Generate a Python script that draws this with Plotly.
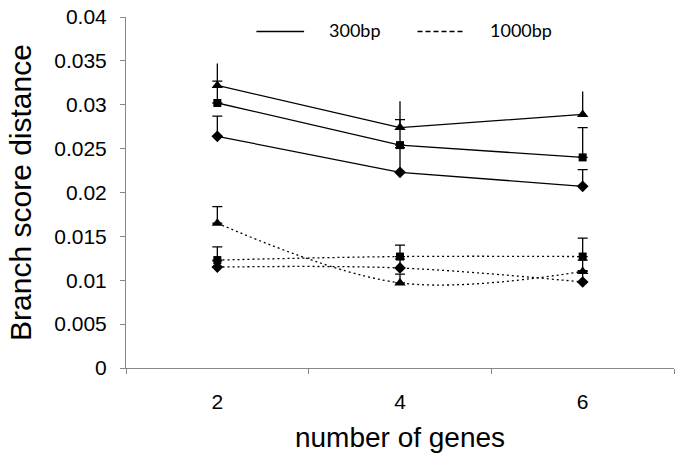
import plotly.graph_objects as go

genes = ["2", "4", "6"]

bp300_triangle = [0.0322, 0.0274, 0.0289]
bp300_square = [0.0302, 0.0254, 0.0240]
bp300_diamond = [0.0264, 0.0223, 0.0207]
bp300_triangle_err = [0.0025, 0.0030, 0.0026]
bp300_square_err = [0.0025, 0.0029, 0.0034]
bp300_diamond_err = [0.0023, 0.0028, 0.0019]

bp1000_triangle = [0.0165, 0.0097, 0.0110]
bp1000_square = [0.0123, 0.0127, 0.0127]
bp1000_diamond = [0.0115, 0.0114, 0.0098]
bp1000_triangle_err = [0.0019, 0.0010, 0.0013]
bp1000_square_err = [0.0015, 0.0013, 0.0021]
bp1000_diamond_err = [0.0007, 0.0010, 0.0013]

y_ticks = [0, 0.005, 0.01, 0.015, 0.02, 0.025, 0.03, 0.035, 0.04]
y_tick_labels = ["0", "0.005", "0.01", "0.015", "0.02", "0.025", "0.03", "0.035", "0.04"]

fig = go.Figure()

def add(y, err, symbol, size, dash, shape, capw):
    fig.add_trace(go.Scatter(
        x=genes, y=y, mode="lines+markers",
        line=dict(color="black", width=1.3, dash=dash, shape=shape, smoothing=1.0),
        marker=dict(symbol=symbol, size=size, color="black"),
        error_y=dict(type="data", array=err, symmetric=False, arrayminus=[0, 0, 0],
                     color="black", thickness=1.3, width=capw),
        showlegend=False,
        cliponaxis=False,
    ))

add(bp300_triangle, bp300_triangle_err, "triangle-up", 10, "solid", "linear", 0)
add(bp300_square, bp300_square_err, "square", 8, "solid", "linear", 5)
add(bp300_diamond, bp300_diamond_err, "diamond", 9, "solid", "linear", 5)
add(bp1000_triangle, bp1000_triangle_err, "triangle-up", 10, "2px,3px", "spline", 5)
add(bp1000_square, bp1000_square_err, "square", 8, "2px,3px", "spline", 5)
add(bp1000_diamond, bp1000_diamond_err, "diamond", 9, "2px,3px", "spline", 5)

# legend drawn manually (line samples + labels)
fig.add_shape(type="line", xref="paper", yref="paper", x0=0.238, x1=0.325, y0=0.959, y1=0.959,
              line=dict(color="black", width=1.5))
fig.add_shape(type="line", xref="paper", yref="paper", x0=0.532, x1=0.618, y0=0.959, y1=0.959,
              line=dict(color="black", width=1.5, dash="5px,3px"))
fig.add_annotation(text="300bp", xref="paper", yref="paper", x=0.366, y=0.962, xanchor="left",
                   yanchor="middle", showarrow=False, font=dict(family="Lato", size=18, color="black"))
fig.add_annotation(text="1000bp", xref="paper", yref="paper", x=0.661, y=0.962, xanchor="left",
                   yanchor="middle", showarrow=False, font=dict(family="Lato", size=18, color="black"))

fig.update_layout(
    width=675, height=453,
    margin=dict(l=126, r=1, t=17, b=85),
    paper_bgcolor="white", plot_bgcolor="white",
    font=dict(family="Liberation Sans, Arial", color="black"),
    xaxis=dict(
        type="category", categoryorder="array", categoryarray=genes,
        range=[-0.5, 2.5], tickson="boundaries", automargin=False,
        ticks="outside", ticklen=5, tickcolor="#888888",
        showline=True, linecolor="#888888", linewidth=1,
        showgrid=False, zeroline=False,
        tickfont=dict(size=21), ticklabelstandoff=15,
        title=dict(text="number of genes", font=dict(size=28), standoff=15),
    ),
    yaxis=dict(
        range=[0, 0.04], tickvals=y_ticks, ticktext=y_tick_labels, automargin=False,
        ticks="outside", ticklen=5, tickcolor="#888888",
        showline=True, linecolor="#888888", linewidth=1,
        showgrid=False, zeroline=False,
        tickfont=dict(size=21), ticklabelstandoff=9, ticklabeloverflow="allow",
        title=dict(text="Branch score distance", font=dict(size=30), standoff=13),
    ),
)

# remove the browser's default body margin so the figure sits at the page origin
fig.write_html("out.html", config={"displayModeBar": False},
               post_script="document.body.style.margin='0';")
